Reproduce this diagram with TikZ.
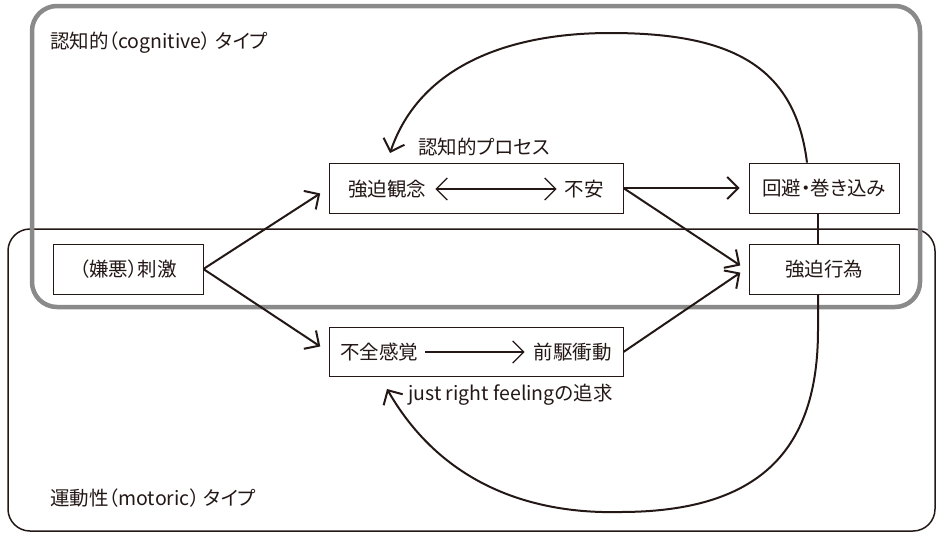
\documentclass[tikz,border=0pt]{standalone}
\usepackage{fontspec}
\setmainfont{Noto Sans CJK JP}[RawFeature=+palt]
\usetikzlibrary{arrows.meta,calc}
\definecolor{ink}{HTML}{231815}
\definecolor{graybox}{HTML}{8A8A8A}
\begin{document}
\begin{tikzpicture}[x=1pt,y=-1pt,
  box/.style={draw=ink, line width=0.8pt, fill=white, inner sep=0pt, minimum height=50pt},
  txt/.style={font=\fontsize{19.5}{22}\selectfont, text=ink, inner sep=0pt},
  lbl/.style={font=\fontsize{19.5}{22}\selectfont, text=ink, inner sep=0pt, anchor=west},
  barb/.tip={Straight Barb[length=11pt,width=22pt]},
  arr/.style={draw=ink, line width=2pt, -barb},
  inarr/.style={draw=ink, line width=1.3pt},
  loop/.style={draw=ink, line width=2pt}
]
\useasboundingbox (0,0) rectangle (937,533);
% frames
\draw[ink, line width=1.5pt, rounded corners=22pt] (8,229) rectangle (935,531);
\draw[graybox, line width=4.5pt, rounded corners=25pt] (32,6) rectangle (920,307);
% nodes
\node[box, minimum width=150pt, txt] (stim) at (128,269) {（嫌悪）刺激};
\node[box, minimum width=294pt] (obs) at (476,188) {};
\node[box, minimum width=150pt, txt] (avoid) at (824,188) {回避・巻き込み};
\node[box, minimum width=150pt, txt] (comp) at (824,269) {強迫行為};
\node[box, minimum width=294pt, minimum height=49pt] (inc) at (476,352) {};
\node[txt, anchor=west] (t1) at (348,189) {強迫観念};
\node[txt, anchor=east] (t2) at (604,189) {不安};
\node[txt, anchor=west] (t3) at (340,352) {不全感覚};
\node[txt, anchor=east] (t4) at (612,352) {前駆衝動};
% labels
\node[lbl] (lc) at (50,43) {認知的（cognitive） タイプ};
\node[lbl] (lm) at (50,498) {運動性（motoric） タイプ};
\node[lbl] (lp) at (418,147) {認知的プロセス};
\node[lbl] (lj) at (408,395) {just right feelingの追求};
% inner arrows
\draw[inarr, barb-barb] ([xshift=9pt]t1.east) -- ([xshift=-8pt]t2.west);
\draw[inarr, -barb] ([xshift=7pt]t3.east) -- ([xshift=-9pt]t4.west);
% main arrows
\draw[arr, shorten >=10pt] (stim.east) -- (obs.west);
\draw[arr, shorten >=10pt] (stim.east) -- (inc.west);
\draw[arr, shorten >=9pt] (obs.east) -- (avoid.west);
\draw[arr, shorten >=10pt] (obs.east) -- ([yshift=-2pt]comp.west);
\draw[arr, shorten >=10pt] (inc.east) -- ([yshift=2pt]comp.west);
% link
\draw[loop] ([xshift=-6pt]avoid.south) -- ([xshift=-6pt]comp.north);
% loops
\coordinate (tipA) at (390,153);
\coordinate (tipB) at (387,389);
\draw[loop, -barb] ([xshift=-17pt]avoid.north) .. controls (795,65) and (730,33) .. (610,33)
  .. controls (510,33) and (420,65) .. (tipA);
\draw[loop, -barb] ([xshift=-6pt]comp.south) -- (818,330) .. controls (818,450) and (760,512) .. (620,512)
  .. controls (540,514) and (445,490) .. (tipB);
\end{tikzpicture}
\end{document}
